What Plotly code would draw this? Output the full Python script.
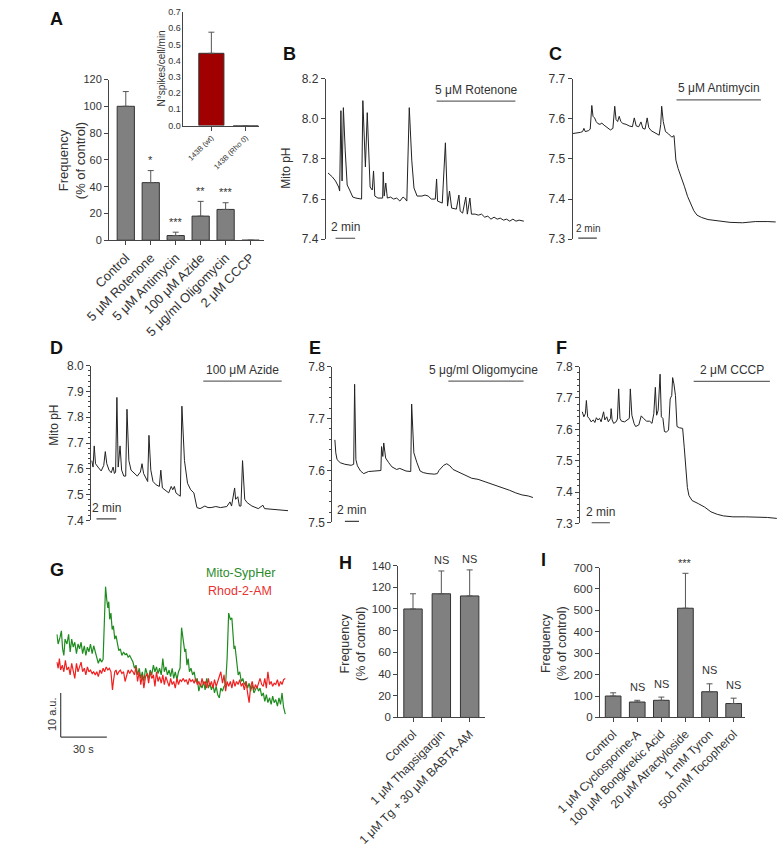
import plotly.graph_objects as go

W, H = 777, 847
FONT = "Arial, Liberation Sans, Helvetica, sans-serif"
TXT = "#333333"
AXC = "#444444"
BAR = "#808080"

# ---------------- data ----------------
a_cats = ["Control", "5 \u03bcM Rotenone", "5 \u03bcM Antimycin", "100 \u03bcM Azide",
          "5 \u03bcg/ml Oligomycin", "2 \u03bcM CCCP"]
a_vals = [100, 43, 3.5, 18, 23, 0]
a_errs = [11, 9, 2.5, 11, 5, 0]
a_sig = ["", "*", "***", "**", "***", ""]

ins_cats = ["143B (wt)", "143B (Rho 0)"]
ins_vals = [0.445, 0]
ins_errs = [0.13, 0]

b_t = [0.03, 0.48, 0.80, 1.12, 1.22, 1.35, 1.47, 1.60, 1.79, 1.99, 2.24, 2.56, 2.88, 3.46, 3.59, 3.85,
       4.04, 4.33, 4.55, 4.68, 4.81, 5.13, 5.61, 5.67, 5.77, 5.93, 6.09, 6.41, 6.73, 7.05, 7.37, 7.69,
       7.85, 8.08, 8.33, 8.59, 8.81, 9.13, 9.62, 9.94, 10.26, 10.58, 10.99, 11.12, 11.22, 11.70, 12.02,
       12.24, 12.44, 12.66, 13.14, 13.40, 13.53, 13.78, 14.10, 14.26, 14.52, 14.68, 15.06, 15.38, 15.71,
       16.03, 16.35, 16.67, 16.99, 17.31, 17.63, 17.95, 18.27, 18.59, 18.91, 19.23, 19.55, 20.03]
b_ph = [7.73, 7.71, 7.69, 7.66, 7.64, 8.04, 7.69, 8.055, 7.84, 7.67, 7.645, 7.61, 7.605, 7.60, 8.09, 7.76,
        8.03, 7.66, 7.645, 7.74, 7.615, 7.605, 7.605, 7.735, 7.615, 7.68, 7.605, 7.61, 7.60, 7.605, 7.59, 7.61,
        7.605, 7.59, 8.055, 7.79, 7.655, 7.615, 7.615, 7.62, 7.615, 7.60, 7.60, 7.70, 7.59, 7.58, 7.88,
        7.565, 7.64, 7.555, 7.55, 7.62, 7.54, 7.53, 7.61, 7.525, 7.605, 7.525, 7.525, 7.52, 7.525,
        7.51, 7.515, 7.50, 7.51, 7.50, 7.505, 7.495, 7.50, 7.49, 7.50, 7.49, 7.495, 7.49]
b_drug = [11.12, 19.17]

c_t = [0, 0.51, 0.85, 1.08, 1.22, 1.36, 1.69, 1.90, 2.00, 2.07, 2.20, 2.37, 2.54, 2.71, 2.95, 3.15, 3.39,
       3.73, 4.07, 4.34, 4.47, 4.54, 4.68, 4.85, 5.02, 5.19, 5.42, 5.76, 6.10, 6.44, 6.64, 6.85, 7.12, 7.36,
       7.56, 7.80, 8.03, 8.20, 8.47, 8.81, 9.32, 9.49, 9.59, 9.76, 10.0, 10.34, 10.68, 10.92, 10.98, 11.12,
       11.36, 11.69, 12.03, 12.37, 12.71, 13.05, 13.39, 13.90, 14.58, 15.59, 16.95, 18.31, 19.66, 21.02, 21.86]
c_ph = [7.563, 7.564, 7.566, 7.568, 7.576, 7.568, 7.570, 7.574, 7.61, 7.633, 7.606, 7.602, 7.593, 7.588,
        7.586, 7.589, 7.584, 7.578, 7.572, 7.576, 7.61, 7.631, 7.598, 7.593, 7.606, 7.593, 7.588, 7.586,
        7.582, 7.580, 7.602, 7.582, 7.580, 7.592, 7.576, 7.574, 7.602, 7.578, 7.570, 7.566, 7.559, 7.586,
        7.631, 7.593, 7.568, 7.562, 7.554, 7.558, 7.529, 7.497, 7.476, 7.456, 7.432, 7.407, 7.387, 7.371,
        7.360, 7.354, 7.349, 7.346, 7.342, 7.341, 7.344, 7.344, 7.343]
c_drug = [11.19, 20.27]

d_t = [0, 0.13, 0.25, 0.38, 0.63, 0.95, 1.21, 1.37, 1.52, 1.75, 1.97, 2.16, 2.29, 2.41, 2.54, 2.67, 2.86,
       3.02, 3.24, 3.43, 3.56, 3.75, 3.97, 4.29, 4.60, 4.92, 5.08, 5.24, 5.46, 5.65, 5.78, 5.97, 6.19, 6.51,
       6.83, 6.98, 7.14, 7.46, 7.78, 8.03, 8.19, 8.35, 8.51, 8.73, 8.95, 9.11, 9.37, 9.68, 10.0, 10.32, 10.48,
       10.63, 10.95, 11.43, 11.75, 12.06, 12.54, 13.02, 13.65, 13.97, 14.13, 14.29, 14.44, 14.54, 14.76,
       14.92, 15.08, 15.24, 15.46, 15.71, 16.19, 16.83, 17.30, 17.46, 18.10, 18.73, 19.37, 19.84]
d_ph = [7.632, 7.607, 7.689, 7.62, 7.607, 7.592, 7.613, 7.667, 7.62, 7.595, 7.585, 7.607, 7.582, 7.588,
        7.877, 7.607, 7.689, 7.595, 7.572, 7.572, 7.831, 7.632, 7.595, 7.582, 7.572, 7.588, 7.62, 7.582,
        7.563, 7.551, 7.73, 7.595, 7.551, 7.538, 7.532, 7.595, 7.526, 7.517, 7.507, 7.532, 7.519, 7.532,
        7.507, 7.50, 7.494, 7.843, 7.632, 7.544, 7.519, 7.507, 7.482, 7.45, 7.446, 7.456, 7.45, 7.45,
        7.454, 7.45, 7.454, 7.472, 7.456, 7.488, 7.526, 7.482, 7.492, 7.456, 7.456, 7.632, 7.482, 7.469,
        7.456, 7.446, 7.459, 7.446, 7.444, 7.444, 7.44, 7.438]
d_drug = [11.27, 19.2]

e_t = [0, 0.13, 0.31, 0.76, 1.42, 2.31, 2.67, 2.80, 2.98, 3.20, 3.64, 4.09, 4.76, 5.64, 6.53, 6.62, 6.80,
       6.93, 7.20, 7.64, 8.09, 8.76, 9.20, 10.09, 10.76, 10.89, 11.20, 11.64, 12.09, 12.53, 13.20, 14.09,
       14.53, 14.76, 14.98, 15.42, 15.87, 16.31, 16.76, 17.64, 18.53, 19.42, 20.31, 21.20, 22.09, 22.98,
       23.87, 24.76, 25.64, 26.53, 27.42, 28.09]
e_ph = [7.659, 7.634, 7.621, 7.615, 7.612, 7.610, 7.612, 7.766, 7.621, 7.609, 7.599, 7.594, 7.598, 7.599,
        7.600, 7.646, 7.627, 7.653, 7.624, 7.615, 7.607, 7.602, 7.604, 7.599, 7.598, 7.728, 7.634, 7.615,
        7.599, 7.596, 7.594, 7.593, 7.594, 7.600, 7.604, 7.610, 7.613, 7.609, 7.602, 7.596, 7.590, 7.585,
        7.583, 7.579, 7.575, 7.571, 7.567, 7.562, 7.557, 7.553, 7.551, 7.548]
e_drug = [16.09, 26.76]

f_t = [0, 0.17, 0.34, 0.45, 0.59, 0.76, 0.97, 1.21, 1.38, 1.55, 1.72, 1.90, 2.07, 2.24, 2.34, 2.48, 2.69,
       2.86, 3.10, 3.17, 3.28, 3.45, 3.72, 3.86, 4.00, 4.14, 4.31, 4.66, 5.00, 5.17, 5.28, 5.45, 5.69, 5.86,
       6.21, 6.48, 6.72, 7.07, 7.41, 7.66, 7.86, 8.03, 8.17, 8.34, 8.55, 8.69, 8.86, 9.03, 9.24, 9.48, 9.66,
       9.83, 9.93, 10.07, 10.24, 10.41, 10.69, 11.03, 11.21, 11.38, 11.55, 11.72, 12.07, 12.76, 13.45, 14.14,
       14.83, 15.52, 16.55, 17.93, 19.31, 20.34, 21.38]
f_ph = [7.656, 7.640, 7.650, 7.692, 7.640, 7.635, 7.624, 7.630, 7.622, 7.637, 7.630, 7.635, 7.624, 7.640,
        7.656, 7.630, 7.640, 7.624, 7.635, 7.666, 7.630, 7.619, 7.624, 7.633, 7.729, 7.635, 7.626, 7.624,
        7.633, 7.635, 7.729, 7.645, 7.619, 7.609, 7.614, 7.643, 7.635, 7.626, 7.626, 7.619, 7.650, 7.734,
        7.645, 7.661, 7.776, 7.640, 7.635, 7.593, 7.591, 7.598, 7.697, 7.708, 7.765, 7.745, 7.708, 7.609,
        7.605, 7.603, 7.541, 7.467, 7.415, 7.389, 7.373, 7.363, 7.352, 7.337, 7.329, 7.324, 7.321, 7.321,
        7.321, 7.319, 7.316]
f_drug = [12.24, 20.62]

g_t_green = [0, 0.8, 2.0, 2.9, 3.7, 4.5, 5.3, 6.5, 7.6, 8.6, 9.6, 10.6, 11.6, 12.7, 13.7, 14.7, 15.7, 16.7,
             17.8, 18.8, 19.8, 20.8, 21.8, 22.9, 23.9, 24.9, 25.9, 26.9, 28.0, 29.0, 30.0, 31.0, 31.6, 32.4,
             33.1, 33.7, 34.3, 35.1, 35.9, 36.7, 37.6, 38.4, 39.2, 40.2, 41.2, 42.2, 43.3, 44.3, 45.3, 46.3,
             47.3, 48.4, 49.4, 50.4, 51.4, 52.4, 53.5, 54.5, 55.5, 56.5, 57.6, 58.6, 59.6, 60.6, 61.6, 62.7,
             63.7, 64.7, 65.7, 66.7, 67.8, 68.8, 69.8, 70.8, 71.8, 72.9, 73.9, 74.9, 75.9, 76.9, 78.0, 79.0,
             80.0, 81.0, 82.0, 83.1, 83.7, 84.5, 85.3, 86.1, 87.1, 88.2, 89.2, 90.2, 91.2, 92.2, 93.3, 94.3,
             95.3, 96.3, 97.3, 98.4, 99.4, 100.4, 101.4, 102.4, 103.5, 104.5, 105.5, 106.5, 107.6, 108.6,
             109.6, 110.6, 111.6, 112.7, 113.7, 114.3, 115.1, 115.7, 116.7, 117.8, 118.8, 119.8, 120.8,
             121.8, 122.9, 123.9, 124.9, 125.9, 126.9, 128.0, 129.0, 130.0, 131.0, 132.0, 133.1, 134.1,
             135.1, 136.1, 137.1, 138.2, 139.2, 140.2, 141.2, 142.2, 143.3, 144.3, 145.3, 146.3, 147.3, 148.4]
g_green = [23.3, 21.1, 22.6, 24.1, 20.0, 18.5, 22.2, 21.1, 23.3, 19.3, 22.2, 20.4, 21.5, 18.9, 21.1, 20.0,
           21.5, 18.9, 20.7, 18.5, 20.4, 19.3, 21.1, 18.9, 20.7, 19.3, 17.4, 16.7, 17.8, 17.0, 17.6, 26.7,
           34.1, 31.1, 29.3, 30.7, 26.7, 28.1, 24.4, 25.2, 22.2, 23.0, 21.1, 19.6, 20.0, 18.5, 19.3, 18.7,
           18.9, 18.1, 18.5, 17.8, 17.0, 15.6, 16.3, 14.1, 15.6, 13.3, 14.8, 12.6, 15.6, 14.4, 13.3, 15.2,
           14.1, 16.3, 14.8, 15.9, 14.4, 15.6, 14.1, 17.8, 14.8, 15.9, 14.1, 15.2, 13.7, 15.6, 13.3, 14.8,
           13.0, 14.8, 15.6, 24.8, 22.2, 19.3, 20.0, 16.3, 17.8, 14.8, 15.6, 14.1, 14.8, 12.6, 13.3, 10.4,
           11.9, 11.1, 12.6, 10.7, 13.3, 11.1, 12.2, 10.7, 11.9, 10.0, 11.5, 9.6, 8.9, 11.1, 10.4, 11.5,
           11.9, 17.8, 28.1, 26.7, 27.0, 23.7, 20.0, 20.7, 17.0, 14.1, 14.8, 12.6, 13.3, 11.9, 12.6, 11.1,
           12.2, 10.4, 11.9, 10.0, 10.7, 11.5, 10.4, 11.1, 9.3, 10.0, 8.1, 9.6, 7.8, 8.9, 7.4, 9.3, 7.8,
           8.5, 7.0, 8.9, 7.4, 10.0, 6.7, 5.2]
g_t_red = [0, 0.8, 1.6, 2.4, 3.5, 4.5, 5.5, 6.5, 7.6, 8.6, 9.6, 10.6, 11.6, 12.7, 13.7, 14.7, 15.7, 16.7,
           17.8, 18.8, 19.8, 20.8, 21.8, 22.9, 23.9, 24.9, 25.9, 26.9, 28.0, 29.0, 30.0, 31.0, 32.0, 33.1,
           34.1, 35.1, 36.1, 36.7, 37.6, 38.4, 39.2, 40.2, 41.2, 42.2, 43.3, 44.3, 45.3, 46.3, 47.3, 48.4,
           49.4, 50.4, 51.4, 52.4, 53.5, 54.5, 55.5, 56.5, 57.6, 58.6, 59.6, 60.6, 61.6, 62.7, 63.7, 64.7,
           65.7, 66.7, 67.8, 68.8, 69.8, 70.8, 71.8, 72.9, 73.9, 74.9, 75.9, 76.9, 78.0, 79.0, 80.0, 81.0,
           82.0, 83.1, 84.1, 85.1, 86.1, 87.1, 88.2, 89.2, 90.2, 91.2, 92.2, 93.3, 94.3, 95.3, 96.3, 97.3,
           98.4, 99.4, 100.4, 101.4, 102.4, 103.5, 104.5, 105.5, 106.5, 107.6, 108.6, 109.6, 110.6, 111.6,
           112.7, 113.7, 114.7, 115.7, 116.7, 117.8, 118.8, 119.8, 120.8, 121.8, 122.9, 123.9, 124.9,
           125.9, 126.9, 128.0, 129.0, 130.0, 131.0, 132.0, 133.1, 134.1, 135.1, 136.1, 137.1, 138.2,
           139.2, 140.2, 141.2, 142.2, 143.3, 144.3, 145.3, 146.3, 147.3, 148.4]
g_red = [17.0, 15.6, 17.8, 15.2, 16.3, 14.8, 17.4, 15.2, 15.9, 14.1, 16.7, 14.8, 13.3, 16.7, 14.8, 15.9,
         17.0, 14.8, 15.6, 14.1, 15.9, 14.8, 15.2, 14.4, 14.8, 14.1, 14.8, 13.7, 15.2, 14.4, 15.6, 14.8,
         15.9, 15.2, 15.6, 14.8, 10.7, 12.6, 14.8, 15.2, 14.1, 14.8, 15.2, 14.4, 14.8, 12.6, 14.1, 15.2,
         14.4, 15.2, 14.8, 14.1, 15.9, 12.6, 14.8, 11.9, 14.1, 11.1, 13.7, 14.4, 12.2, 14.8, 13.3, 14.1,
         11.5, 14.8, 12.6, 13.7, 12.2, 14.1, 11.9, 13.7, 12.6, 11.5, 13.3, 11.9, 12.6, 11.1, 13.3, 11.9,
         13.0, 12.6, 13.3, 12.6, 13.0, 11.9, 13.3, 12.6, 13.0, 12.2, 13.3, 11.9, 12.6, 11.5, 13.3, 11.9,
         12.6, 11.1, 13.3, 11.5, 12.6, 11.1, 13.0, 11.5, 12.6, 13.7, 14.8, 12.2, 14.1, 10.4, 12.6, 11.5,
         12.6, 11.1, 13.0, 11.5, 12.6, 11.9, 13.0, 11.5, 12.2, 10.7, 12.6, 10.0, 7.8, 11.5, 12.6, 10.7,
         11.9, 11.1, 12.2, 13.3, 11.9, 11.5, 13.3, 11.1, 14.8, 11.9, 12.6, 11.5, 12.2, 11.9, 13.0, 11.5,
         12.6, 11.9, 13.0, 13.3]

h_cats = ["Control", "1 \u03bcM Thapsigargin", "1 \u03bcM Tg + 30 \u03bcM BABTA-AM"]
h_vals = [100, 114, 112]
h_errs = [14, 21, 24]
h_sig = ["", "NS", "NS"]

i_cats = ["Control", "1 \u03bcM Cyclosporine-A", "100 \u03bcM Bongkrekic Acid", "20 \u03bcM Atractyloside",
          "1 mM Tyron", "500 mM Tocopherol"]
i_vals = [100, 72, 80, 510, 120, 65]
i_errs = [15, 8, 15, 163, 37, 25]
i_sig = ["", "NS", "NS", "***", "NS", "NS"]

# ---------------- helpers ----------------
def xd(a, b):
    return [a / W, b / W]

def yd(top, bottom):
    return [1 - bottom / H, 1 - top / H]

def px(x):
    return x / W

def py(y):
    return 1 - y / H

fig = go.Figure()
layout = {}
annotations = []
shapes = []

def ann(text, x, y, xref="paper", yref="paper", size=11, color=TXT, xanchor="center",
        yanchor="middle", angle=0, bold=False):
    if bold:
        text = "<b>" + text + "</b>"
    annotations.append(dict(text=text, x=x, y=y, xref=xref, yref=yref, showarrow=False,
                            font=dict(size=size, color=color, family=FONT), xanchor=xanchor,
                            yanchor=yanchor, textangle=angle))

def yaxis_style(**kw):
    d = dict(showline=True, linecolor=AXC, linewidth=1, ticks="outside", ticklen=4, tickcolor=AXC,
             tickwidth=1, showgrid=False, zeroline=False, tickfont=dict(size=12, color=TXT, family=FONT))
    d.update(kw)
    return d

# ---------- bar panels ----------
def bar_panel(n, cats, vals, errs, xdom, ydom, xr, yr, dtick, width, color=BAR, tfs=11, cfs=11,
              tickformat=None, yticks="outside"):
    xa = "x" if n == 1 else f"x{n}"
    ya = "y" if n == 1 else f"y{n}"
    fig.add_trace(go.Bar(x=cats, y=vals, width=width, marker=dict(color=color, line=dict(color="#333", width=1)),
                         error_y=dict(type="data", array=errs, arrayminus=[0] * len(errs), symmetric=False,
                                      color="#555", thickness=1, width=3),
                         xaxis=xa, yaxis=ya, showlegend=False))
    key = "" if n == 1 else str(n)
    layout["xaxis" + key] = dict(domain=xdom, anchor=ya, range=xr, type="category", showline=True,
                                 linecolor=AXC, linewidth=1, ticks="outside", ticklen=4, tickcolor=AXC,
                                 tickangle=-45, showgrid=False, zeroline=False,
                                 tickfont=dict(size=cfs, color=TXT, family=FONT))
    ydict = yaxis_style(domain=ydom, anchor=xa, range=yr, dtick=dtick, tick0=0, ticks=yticks,
                        tickfont=dict(size=tfs, color=TXT, family=FONT))
    if tickformat:
        ydict["tickformat"] = tickformat
    layout["yaxis" + key] = ydict
    return xa, ya

# A main
xa, ya = bar_panel(1, a_cats, a_vals, a_errs, xd(68, 232), yd(74, 238), [-0.67, 5.52], [0, 120], 20, 0.69,
                   tfs=11, cfs=13)
for c, v, e, s in zip(a_cats, a_vals, a_errs, a_sig):
    if s:
        ann(s, c, v + e + 2, xref=xa, yref=ya, size=11, yanchor="bottom")
ann("Frequency<br>(% of control)", px(29), py(157), size=13, angle=-90)

# A inset
xa2, ya2 = bar_panel(2, ins_cats, ins_vals, ins_errs, xd(147, 227), yd(5, 121), [-0.81, 1.38], [0, 0.7],
                     0.1, 0.73, color="#a00000", tfs=9, cfs=7.5, tickformat=".1f", yticks="")
ann("N\u00b0spikes/cell/min", px(124), py(63), size=10, angle=-90)

# H
xa9, ya9 = bar_panel(9, h_cats, h_vals, h_errs, xd(375, 467), yd(570, 725), [-0.52, 2.54], [0, 140], 20, 0.65,
                     tfs=11.5, cfs=12)
for c, v, e, s in zip(h_cats, h_vals, h_errs, h_sig):
    if s:
        ann(s, c, v + e + 3, xref=xa9, yref=ya9, size=11, yanchor="bottom")
ann("Frequency<br>(% of control)", px(327), py(650), size=12.5, angle=-90)

# I
xa10, ya10 = bar_panel(10, i_cats, i_vals, i_errs, xd(589, 743), yd(572, 725), [-0.55, 5.47], [0, 700], 100, 0.65,
                       tfs=11.5, cfs=12)
for c, v, e, s in zip(i_cats, i_vals, i_errs, i_sig):
    if s:
        ann(s, c, v + e + (25 if s == "NS" else 10), xref=xa10, yref=ya10, size=11, yanchor="bottom")
ann("Frequency<br>(% of control)", px(540), py(650), size=12.5, angle=-90)

# ---------- trace panels ----------
def trace_panel(n, t, ph, xdom, ydom, xr, yr, dtick, minor):
    xa = f"x{n}"
    ya = f"y{n}"
    fig.add_trace(go.Scatter(x=t, y=ph, mode="lines", line=dict(color="#222", width=1),
                             xaxis=xa, yaxis=ya, showlegend=False))
    layout[f"xaxis{n}"] = dict(domain=xdom, anchor=ya, range=xr, visible=False)
    yd_ = yaxis_style(domain=ydom, anchor=xa, range=yr, dtick=dtick, tick0=yr[0], tickformat=".1f")
    if minor:
        yd_["minor"] = dict(ticks="outside", ticklen=2, tickcolor=AXC, dtick=minor, showgrid=False)
    layout[f"yaxis{n}"] = yd_
    return xa, ya

def drug(xa, ya, span, y_line, y_text, label, size=12, x_text=None, xanchor="center"):
    shapes.append(dict(type="line", xref=xa, yref=ya, x0=span[0], x1=span[1], y0=y_line, y1=y_line,
                       line=dict(color="#666", width=1.2)))
    ann(label, x_text if x_text is not None else (span[0] + span[1]) / 2, y_text, xref=xa, yref=ya,
        size=size, xanchor=xanchor, yanchor="bottom")

def scalebar(xa, ya, x0, y, ytext, size=12):
    shapes.append(dict(type="line", xref=xa, yref=ya, x0=x0, x1=x0 + 2, y0=y, y1=y,
                       line=dict(color="#444", width=1.2)))
    ann("2 min", x0 + 1, ytext, xref=xa, yref=ya, size=size, yanchor="bottom")

# B
xb, yb = trace_panel(3, b_t, b_ph, xd(298, 509), yd(73, 237), [-0.2, 20.1], [7.4, 8.2], 0.2, None)
drug(xb, yb, b_drug, 8.088, 8.10, "5 \u03bcM Rotenone")
scalebar(xb, yb, 0.8, 7.405, 7.415)
ann("Mito pH", px(256), py(165), size=12, angle=-90)

# C
xc, yc = trace_panel(4, c_t, c_ph, xd(560, 776), yd(73, 237), [0, 21.9], [7.3, 7.7], 0.1, None)
drug(xc, yc, c_drug, 7.647, 7.653, "5 \u03bcM Antimycin")
scalebar(xc, yc, 0.61, 7.303, 7.308, size=10)

# D
xdd, ydd = trace_panel(5, d_t, d_ph, xd(49, 258), yd(366, 524), [-0.06, 19.84], [7.4, 8.0], 0.1, 0.02)
drug(xdd, ydd, d_drug, 7.94, 7.948, "100 \u03bcM Azide")
scalebar(xdd, ydd, 0.48, 7.406, 7.414)
ann("Mito pH", px(10), py(427), size=12, angle=-90)

# E
xe, ye = trace_panel(6, e_t, e_ph, xd(305, 518), yd(367, 526), [-0.36, 28.1], [7.5, 7.8], 0.1, 0.02)
drug(xe, ye, e_drug, 7.772, 7.776, "5 \u03bcg/ml Oligomycine", x_text=13.0, xanchor="left")
scalebar(xe, ye, 1.42, 7.502, 7.506)

# F
xf, yf = trace_panel(7, f_t, f_ph, xd(568, 777), yd(367, 527), [-0.24, 21.4], [7.3, 7.8], 0.1, 0.02)
drug(xf, yf, f_drug, 7.753, 7.759, "2 \u03bcM CCCP")
scalebar(xf, yf, 1.03, 7.302, 7.309)

# G
G0 = 745  # pixel row of the 0 a.u. level
fig.add_trace(go.Scatter(x=g_t_green, y=g_green, mode="lines", line=dict(color="#1e8c1e", width=1.2),
                         xaxis="x8", yaxis="y8", showlegend=False))
fig.add_trace(go.Scatter(x=g_t_red, y=g_red, mode="lines", line=dict(color="#f02020", width=1.2),
                         xaxis="x8", yaxis="y8", showlegend=False))
layout["xaxis8"] = dict(domain=xd(12, 258), anchor="y8", range=[-0.4, 150.2], visible=False)
layout["yaxis8"] = dict(domain=yd(570, 765), anchor="x8", range=[(G0 - 765) / 4.5, (G0 - 570) / 4.5],
                        visible=False)
shapes.append(dict(type="line", xref="x8", yref="y8", x0=2.45, x1=2.45, y0=0, y1=10,
                   line=dict(color="#444", width=1.2)))
shapes.append(dict(type="line", xref="x8", yref="y8", x0=2.45, x1=32.45, y0=0, y1=0,
                   line=dict(color="#444", width=1.2)))
ann("10 a.u.", px(7), py(G0 - 23), size=11, angle=-90)
ann("30 s", px(41), py(G0 + 12), size=11)
ann("Mito-SypHer", px(208), py(578), size=12.5, color="#2a8a2a")
ann("Rhod-2-AM", px(207), py(596), size=12.5, color="#e83232")

# panel letters
for lab, x, y in [("A", 3, 12), ("B", 251, 48), ("C", 533, 48), ("D", 3, 348), ("E", 278, 348),
                  ("F", 540, 348), ("G", 3, 575), ("H", 310, 567), ("I", 524, 564)]:
    ann(lab, px(x), py(y), size=18, color="#111", xanchor="left", bold=True)

fig.update_layout(width=W, height=H, margin=dict(l=0, r=0, t=0, b=0), paper_bgcolor="white",
                  plot_bgcolor="white", font=dict(family=FONT, color=TXT), showlegend=False,
                  annotations=annotations, shapes=shapes, **layout)
fig.write_html("out.html", config={"displayModeBar": False},
               post_script="document.body.style.margin='0px';")
